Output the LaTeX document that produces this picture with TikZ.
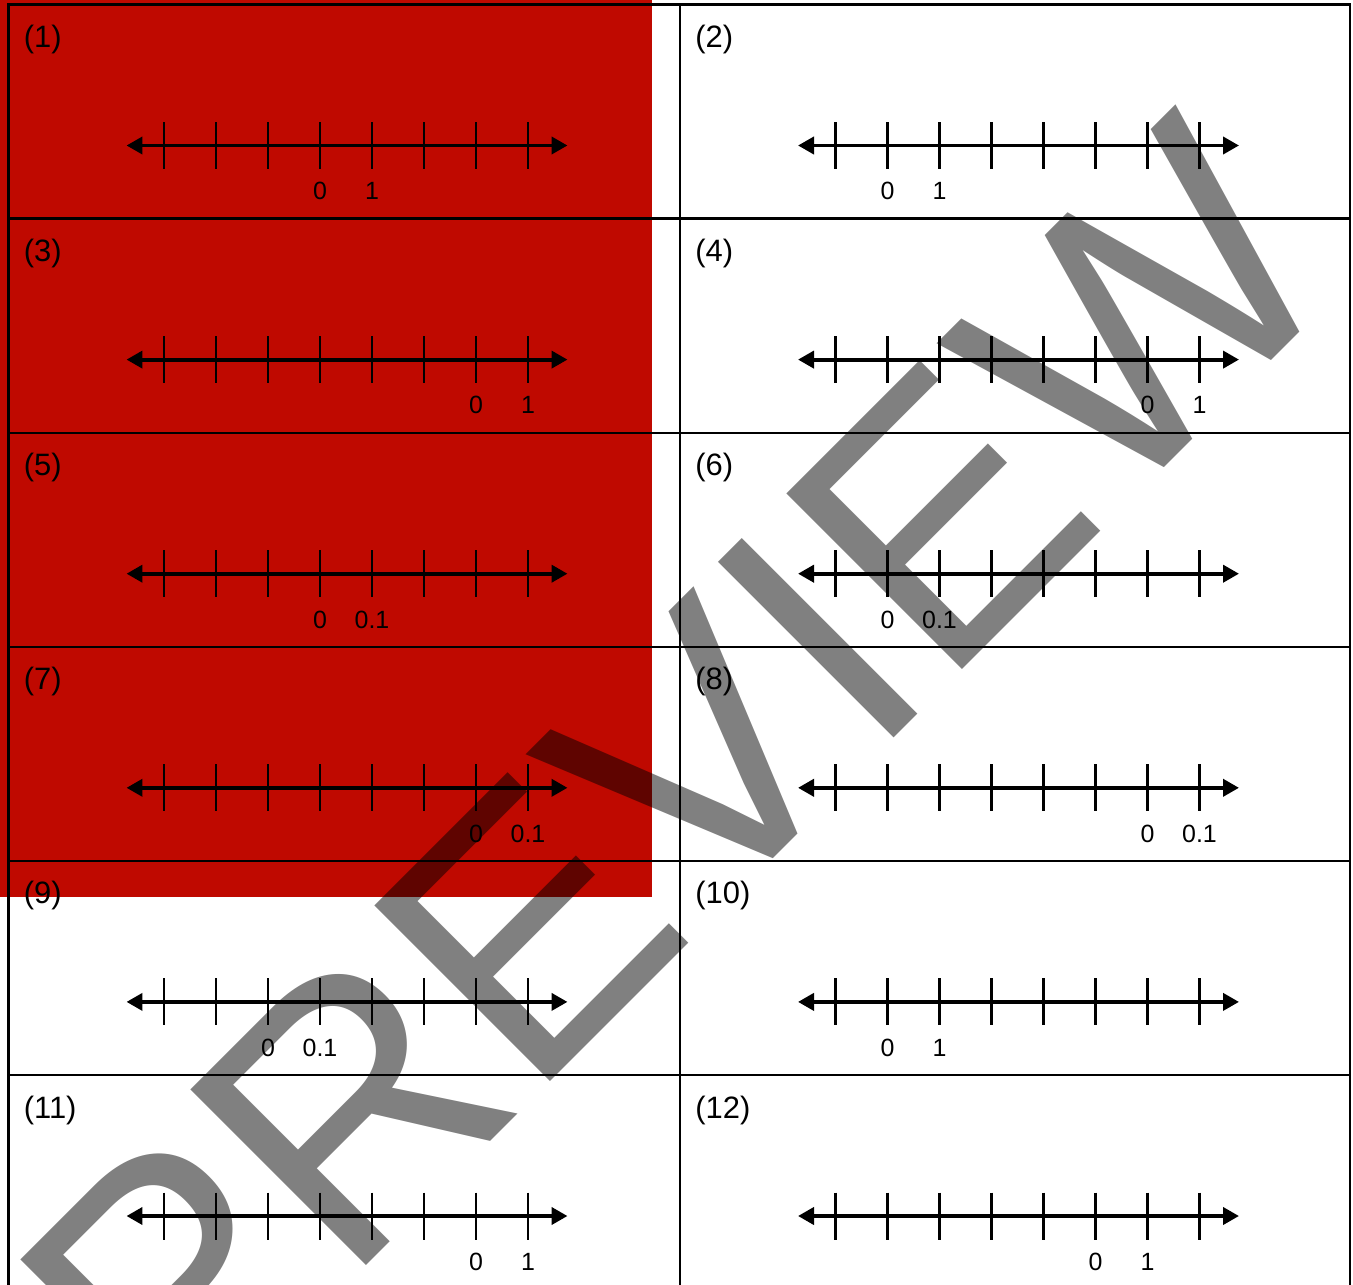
\documentclass[tikz,border=0pt]{standalone}
\usepackage{fontspec}
\setmainfont{Liberation Sans}
\usepackage{tikz}
\usetikzlibrary{arrows.meta, calc}

\definecolor{blockred}{RGB}{191,9,0}
\definecolor{markgray}{RGB}{128,128,128}

\begin{document}
\begin{tikzpicture}[x=0.02cm, y=-0.02cm,
    gridline/.style={line width=1.3pt, black},
    axisline/.style={line width=2.2pt, {Triangle[length=0.32cm,width=0.34cm]}-{Triangle[length=0.32cm,width=0.34cm]}},
    tickline/.style={line width=1.2pt},
    panellabel/.style={anchor=base west, inner sep=0, font=\fontsize{17.6}{20}\selectfont},
    ticklabel/.style={anchor=base, inner sep=0, font=\fontsize{14.2}{16}\selectfont},
    watermark/.style={anchor=base, inner sep=0, rotate=45, text=markgray, font=\fontsize{205.5}{205.5}\selectfont}]
    \clip (0,0) rectangle (1353,1285);

    % Red block behind the upper left panels
    \fill[blockred] (0,0) rectangle (652,897);

    % Grid of twelve panels
    \draw[gridline] (8.5,4.5) rectangle (1350,1400);
    \draw[gridline] (680,4.5) -- (680,1400);
    \foreach \k in {1,...,5}
        \draw[gridline] (8.5,4.5+214.1*\k) -- (1350,4.5+214.1*\k);

    % Number lines: panel/column/row/tick of 0/unit
    \foreach \n/\c/\r/\z/\u in {1/0/0/4/1, 2/1/0/2/1, 3/0/1/7/1, 4/1/1/7/1,
                                5/0/2/4/0.1, 6/1/2/2/0.1, 7/0/3/7/0.1, 8/1/3/7/0.1,
                                9/0/4/3/0.1, 10/1/4/2/1, 11/0/5/7/1, 12/1/5/6/1}{
        \pgfmathsetmacro{\px}{8.5+671.5*\c}
        \pgfmathsetmacro{\py}{4.5+214.1*\r}
        \node[panellabel] (lab\n) at (\px+15,\py+43) {(\n)};
        \coordinate (tipL\n) at (\px+118,\py+141);
        \coordinate (tipR\n) at (\px+559,\py+141);
        \draw[axisline] (tipL\n) -- (tipR\n);
        \foreach \i in {0,...,7}
            \draw[tickline] (\px+155.5+52*\i,\py+117.5) -- ++(0,47);
        \node[ticklabel] (zero\n) at (\px+155.5+52*\z-52,\py+195.3) {0};
        \node[ticklabel] (unit\n) at (\px+155.5+52*\z,\py+195.3) {\u};
    }

    % Watermark
    \begin{scope}[blend mode=multiply]
        \node[watermark] (mark) at (764,868) {PREVIEW};
    \end{scope}
\end{tikzpicture}
\end{document}
